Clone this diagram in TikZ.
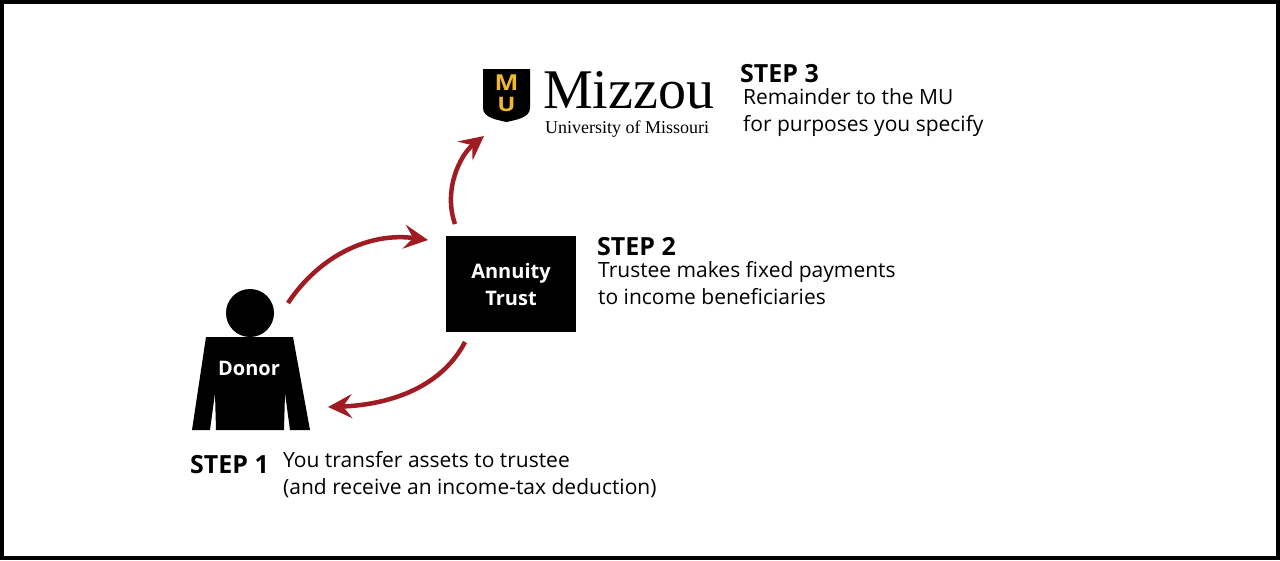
\documentclass[tikz,border=0pt]{standalone}
\usepackage{fontspec}
\setmainfont{Open Sans}
\newfontfamily\serifu{Liberation Serif}
\usetikzlibrary{arrows.meta}
\definecolor{mured}{HTML}{A01C22}
\definecolor{mugold}{HTML}{F1B82D}
\begin{document}
\begin{tikzpicture}[x=1pt,y=-1pt,
  steplbl/.style={anchor=base west,font=\fontsize{25}{28}\selectfont\bfseries,inner sep=0},
  body/.style={anchor=north west,align=left,font=\fontsize{21}{27}\selectfont,inner sep=0},
  arr/.style={mured,line width=4.5pt,-{Stealth[length=24pt,width=24pt,inset=9pt]}}]
\useasboundingbox (0,0) rectangle (1280,560);
\draw[line width=4pt] (2,2) rectangle (1278,558);
% donor
\fill (250,313) circle (24);
\fill (206,337) -- (293,337) -- (310,430) -- (290,430) -- (285,393) -- (284,430) -- (216,430) -- (215,393) -- (210,430) -- (192,430) -- cycle;
\node[white,font=\fontsize{20}{24}\selectfont\bfseries] (donor) at (249,368) {Donor};
% trust
\node[fill=black,minimum width=130pt,minimum height=96pt,text=white,align=center,font=\fontsize{20}{27}\selectfont\bfseries] (trust) at (511,284) {Annuity\\Trust};
% logo
\fill (483,69) -- (530,69) -- (530,108) .. controls (530,118) and (515,120) .. (506.5,122) .. controls (498,120) and (483,118) .. (483,108) -- cycle;
\node[mugold,font=\bfseries\fontsize{22}{22}\selectfont,inner sep=0,xscale=1.15] (mlet) at (506.5,83) {M};
\node[mugold,font=\bfseries\fontsize{20}{20}\selectfont,inner sep=0,xscale=1.2] (ulet) at (506.5,104) {U};
\node[anchor=base west,inner sep=0,font=\serifu\fontsize{56}{56}\selectfont] (mizzou) at (543,108) {Mizzou};
\node[anchor=base west,inner sep=0,font=\serifu\fontsize{18}{18}\selectfont] (uni) at (545,133) {University of Missouri};
% arrows
\coordinate (a1s) at (288,303); \coordinate (a1e) at (428,240);
\coordinate (a2s) at (465,342); \coordinate (a2e) at (328,407);
\coordinate (a3s) at (455,224); \coordinate (a3e) at (484,136);
\draw[arr] (a1s) .. controls (320,255) and (370,232) .. (a1e);
\draw[arr] (a2s) .. controls (440,390) and (385,405) .. (a2e);
\draw[arr] (a3s) .. controls (443,190) and (460,155) .. (a3e);
% texts
\node[steplbl] (s3) at (740,82) {STEP 3};
\node[body] (t3) at (743,88) {Remainder to the MU\\for purposes you specify};
\node[steplbl] (s2) at (597,255) {STEP 2};
\node[body] (t2) at (598,261) {Trustee makes fixed payments\\to income beneficiaries};
\node[steplbl] (s1) at (190,473) {STEP 1};
\node[body] (t1) at (283,451) {You transfer assets to trustee\\(and receive an income-tax deduction)};
\end{tikzpicture}
\end{document}
